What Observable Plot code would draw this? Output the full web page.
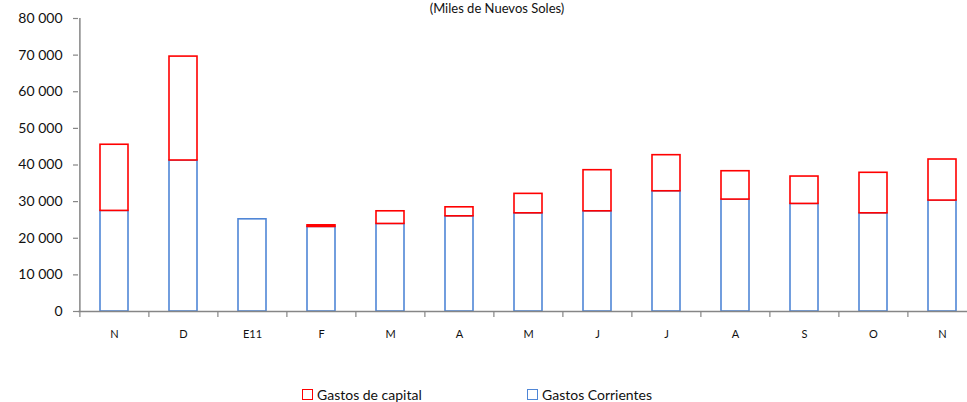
<!DOCTYPE html>
<html>
<head>
<meta charset="utf-8">
<script src="https://cdn.jsdelivr.net/npm/d3@7"></script>
<script src="https://cdn.jsdelivr.net/npm/@observablehq/plot@0.6"></script>
<style>
  html, body { margin: 0; padding: 0; background: white; overflow: hidden; }
  #wrap { position: relative; width: 967px; height: 402px; font-family: Lato, "Open Sans", sans-serif; color: #111; }
  #title { position: absolute; top: 1px; left: 0; width: 994px; text-align: center; font-size: 13px; line-height: 14px; white-space: nowrap; }
  #legend { position: absolute; top: 386px; left: 0; width: 967px; font-size: 14px; }
  .item { position: absolute; display: flex; align-items: center; white-space: nowrap; }
  .sw { width: 9px; height: 9px; margin-right: 4px; background: white; box-sizing: content-box; }
</style>
</head>
<body>
<div id="wrap">
  <div id="chart"></div>
  <div id="title">(Miles de Nuevos Soles)</div>
  <div id="legend"></div>
</div>
<script>
const months = ["N", "D", "E11", "F", "M", "A", "M", "J", "J", "A", "S", "O", "N"];
const gastosCorrientes = [27470, 41230, 25170, 23090, 23910, 25990, 26810, 27360, 32830, 30560, 29380, 26810, 30290];
const gastosCapital = [18060, 28370, 0, 440, 3450, 2460, 5310, 11220, 9850, 7740, 7470, 11060, 11210];
const yTicks = [0, 10000, 20000, 30000, 40000, 50000, 60000, 70000, 80000];
const seriesNames = ["Gastos Corrientes", "Gastos de capital"];
const seriesColors = ["#4f86d6", "#ff0000"];

const data = [];
months.forEach((m, i) => data.push({i, series: seriesNames[0], value: gastosCorrientes[i]}));
months.forEach((m, i) => { if (gastosCapital[i] > 0) data.push({i, series: seriesNames[1], value: gastosCapital[i]}); });

const W = 967, H = 402;
const x0 = 78, x1 = 978;
const step = (x1 - x0) / months.length;
const fmt = d => d3.format(",")(d).replace(/,/g, " ");
const axisColor = "#868686";

const plot = Plot.plot({
  width: W,
  height: H,
  marginTop: 18,
  marginBottom: 91,
  marginLeft: x0,
  marginRight: W - x1,
  style: {fontFamily: "Lato, 'Open Sans', sans-serif", background: "white", color: "#111", overflow: "visible"},
  x: {domain: d3.range(months.length), range: [x0, x1], paddingInner: 0.6, paddingOuter: 0.3, axis: null, label: null},
  y: {domain: [0, 80000], axis: null, label: null},
  color: {domain: seriesNames, range: seriesColors},
  marks: [
    Plot.barY(data, Plot.stackY({x: "i", y: "value", fill: "white", stroke: "series", strokeWidth: 1.6})),
    Plot.ruleY([0], {stroke: axisColor, strokeWidth: 1.5}),
    Plot.ruleX([0], {x: d => d, y1: 0, y2: 80000, dx: -step / 2, stroke: axisColor, strokeWidth: 1.5}),
    Plot.axisX({tickSize: 6, tickFormat: () => "", dx: -step / 2, stroke: axisColor, strokeWidth: 1.2, label: null}),
    Plot.axisX({tickSize: 0, tickPadding: 19, tickFormat: i => months[i], fontSize: 11, fill: "#111", label: null}),
    Plot.axisY({ticks: yTicks, tickSize: 5, tickPadding: 11, tickFormat: fmt, fontSize: 14, fill: "#111", stroke: axisColor, strokeWidth: 1.2, label: null})
  ]
});
document.getElementById("chart").appendChild(plot);

const legend = document.getElementById("legend");
const legendItems = [
  {name: seriesNames[1], color: seriesColors[1], left: 302},
  {name: seriesNames[0], color: seriesColors[0], left: 527}
];
legendItems.forEach(it => {
  const d = document.createElement("div");
  d.className = "item";
  d.style.left = it.left + "px";
  const sw = document.createElement("div");
  sw.className = "sw";
  sw.style.border = "1.5px solid " + it.color;
  const t = document.createElement("span");
  t.textContent = it.name;
  d.appendChild(sw); d.appendChild(t);
  legend.appendChild(d);
});
</script>
</body>
</html>
